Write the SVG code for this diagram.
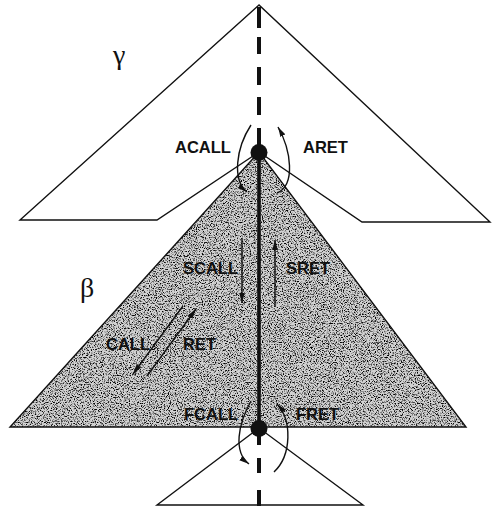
<svg xmlns="http://www.w3.org/2000/svg" width="492" height="508" viewBox="0 0 492 508">
<style>
.outline{fill:none;stroke:#111;stroke-width:1.4;stroke-linejoin:miter}
.arrow{fill:none;stroke:#111;stroke-width:1.4;marker-end:url(#ah)}
.dash{stroke:#111;stroke-width:4;fill:none}
.spine{stroke:#111;stroke-width:3.6;fill:none}
.lbl{font-family:"Liberation Sans",Arial,sans-serif;font-weight:bold;font-size:16.5px;fill:#111}
.greek{font-family:"Liberation Serif","DejaVu Serif",serif;font-size:28px;fill:#111}
.dot{fill:#111}
</style>
<defs>
<marker id="ah" markerUnits="userSpaceOnUse" markerWidth="11" markerHeight="6" refX="10" refY="3" orient="auto">
<path d="M0,0.2 L10,3 L0,5.8 z" fill="#111"/>
</marker>
<filter id="grain" x="0" y="0" width="1" height="1">
<feTurbulence type="fractalNoise" baseFrequency="0.85" numOctaves="2" seed="7" result="n"/>
<feColorMatrix in="n" type="matrix" values="0 0 0 0 0  0 0 0 0 0  0 0 0 0 0  -4 0 0 0 2.1" result="s"/>
<feComposite in="s" in2="SourceGraphic" operator="in"/>
</filter>
</defs>

<g id="tree-gamma">
<path class="outline" d="M259,5 L20,220 L157,220 L259,152 L362,222 L490,222 Z"/>
<text class="greek" x="113" y="64">γ</text>
</g>

<g id="tree-beta">
<path d="M259,152 L10,427 L466,427 Z" fill="#d2d2d2"/>
<path d="M259,152 L10,427 L466,427 Z" fill="#000" filter="url(#grain)"/>
<path class="outline" d="M259,152 L10,427 L466,427 Z"/>
<text class="greek" x="80" y="297">β</text>
</g>

<g id="tree-bottom">
<path class="outline" d="M259,428 L157,505 L363,505 Z"/>
</g>

<g id="connectors">
<line class="spine" x1="259" y1="152" x2="259" y2="428"/>
<line class="dash" x1="259" y1="7" x2="259" y2="28"/>
<line class="dash" x1="259" y1="37" x2="259" y2="54"/>
<line class="dash" x1="259" y1="67" x2="259" y2="85"/>
<line class="dash" x1="259" y1="97" x2="259" y2="115"/>
<line class="dash" x1="259" y1="128" x2="259" y2="152"/>
<line class="dash" x1="259" y1="428" x2="259" y2="445"/>
<line class="dash" x1="259" y1="458" x2="259" y2="473"/>
<line class="dash" x1="259" y1="490" x2="259" y2="506"/>
<path class="arrow" d="M251,125 C236,148 232,180 247,192"/>
<path class="arrow" d="M277,193 C296,185 291,150 278,127"/>
<path class="arrow" d="M242,238 L242,303"/>
<path class="arrow" d="M275,307 L275,240"/>
<path class="arrow" d="M183,306 L133,374"/>
<path class="arrow" d="M147,376 L196,309"/>
<path class="arrow" d="M251,401 C238,424 233,452 249,464"/>
<path class="arrow" d="M274,472 C292,455 292,420 277,404"/>
</g>

<g id="node-top"><circle class="dot" cx="259" cy="152.5" r="8.5"/></g>
<g id="node-bottom"><circle class="dot" cx="259" cy="428.5" r="8.5"/></g>

<g id="labels">
<text class="lbl" x="175" y="152.5">ACALL</text>
<text class="lbl" x="303" y="152.5">ARET</text>
<text class="lbl" x="183" y="273.5">SCALL</text>
<text class="lbl" x="286" y="273.5">SRET</text>
<text class="lbl" x="106" y="350">CALL</text>
<text class="lbl" x="183" y="350">RET</text>
<text class="lbl" x="184" y="419.5">FCALL</text>
<text class="lbl" x="296" y="419.5">FRET</text>
</g>
</svg>
